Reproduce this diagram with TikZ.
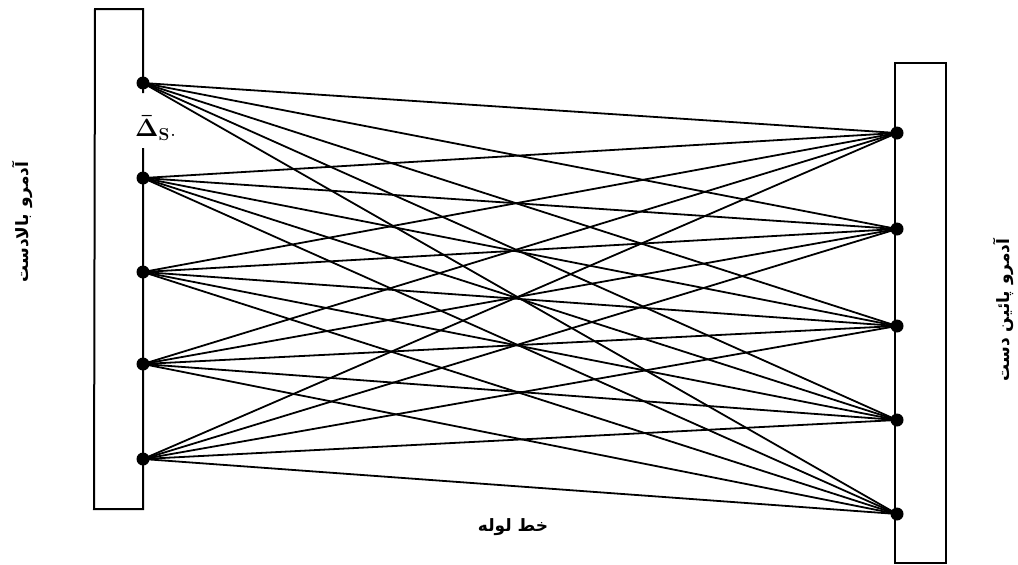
\documentclass[tikz,border=0pt]{standalone}
\usepackage{fontspec}
\TeXXeTstate=1
\newfontfamily\arabicfont[Script=Arabic]{DejaVu Sans}
\begin{document}
\begin{tikzpicture}[x=1pt,y=-1pt,
  dotnode/.style={circle,fill=black,inner sep=0pt,minimum size=13pt},
  wire/.style={line width=1.8pt},
  frame/.style={line width=2pt},
  lbl/.style={font=\arabicfont\bfseries\fontsize{17}{19}\selectfont,inner sep=0pt}]
\useasboundingbox (0,0) rectangle (1018,565);
% left manhole
\coordinate (lgt) at (143,93);
\coordinate (lgb) at (143,148);
\draw[frame] (lgt) -- (143,9) -- (95,9) -- (94,509) -- (143,509) -- (lgb);
% right manhole
\draw[frame] (895,63) rectangle (946,563);
% nodes
\foreach \i/\y in {1/83,2/178,3/272,4/364,5/459} {
  \node[dotnode] (L\i) at (143,\y) {};
}
\foreach \i/\y in {1/133,2/229,3/326,4/420,5/514} {
  \node[dotnode] (R\i) at (897,\y) {};
}
\foreach \i in {1,...,5} {
  \foreach \j in {1,...,5} {
    \draw[wire] (L\i.center) -- (R\j.center);
  }
}
\node[inner sep=0pt,anchor=west,font=\fontsize{26}{28}\selectfont\boldmath] (ds) at (135,128) {$\bar{\Delta}_{\mathbf{S}}$.};
% labels
\node[lbl,rotate=90] (lt) at (22,222) {\arabicfont\beginR آدمرو بالادست\endR};
\node[lbl,rotate=90] (rt) at (1003,310) {\arabicfont\beginR آدمرو پائین دست\endR};
\node[lbl] (bt) at (513,527) {\arabicfont\beginR خط لوله\endR};
\end{tikzpicture}
\end{document}
